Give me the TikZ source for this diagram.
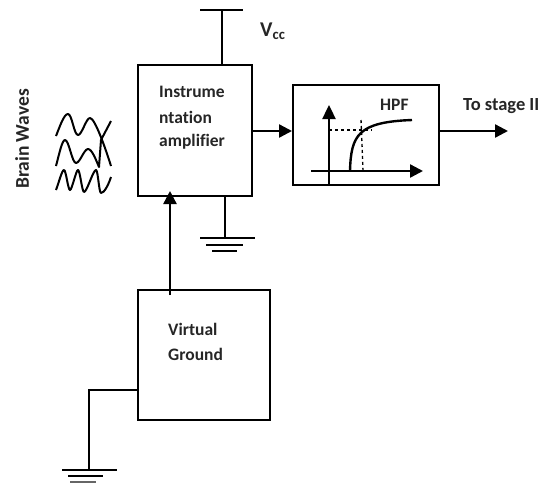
\documentclass[tikz,border=0pt]{standalone}
\usepackage{fontspec}
\setmainfont[Ligatures=CommonOff]{Carlito}
\usetikzlibrary{arrows.meta}
\tikzset{
  blockbox/.style={draw=black, line width=2pt, inner sep=0pt, anchor=north west},
  wire/.style={black, line width=2.4pt},
  feed/.style={wire, -{Stealth[length=13pt, width=13pt, inset=0pt]}},
  wave/.style={black, line width=2pt, line join=round},
  lbl/.style={font=\fontsize{17.5}{20}\bfseries\selectfont, text=black!85, inner sep=0pt}
}
\begin{document}
\begin{tikzpicture}[x=1pt,y=-1pt]
\useasboundingbox (0,0) rectangle (539,483);
\node[blockbox, minimum width=114pt, minimum height=131pt] (amp) at (137,64) {};
\node[blockbox, minimum width=146pt, minimum height=100pt] (hpf) at (292,84) {};
\node[blockbox, minimum width=132pt, minimum height=130pt] (vgnd) at (137,289) {};
\coordinate (vcc) at (222,10);
\coordinate (gndA) at (225,238);
\coordinate (gndB) at (89,470);
\coordinate (out) at (508,131);
\coordinate (vgndtop) at (170,295);
\coordinate (ampbot) at (170,191);
% supply and grounds
\draw[wire] (vcc) -- (vcc |- amp.north);
\draw[line width=1.4pt] (200,10) -- (243,10);
\draw[wire] (gndA |- amp.south) -- (gndA);
\draw[line width=2pt] (200,238) -- (255,238);
\draw[line width=1.8pt] (206,245) -- (243,245);
\draw[line width=1.4pt] (212,251) -- (237,251);
\draw[wire] (vgnd.west |- 0,390) -| (gndB);
\draw[line width=1.6pt] (62,470) -- (117,470);
\draw[line width=2pt] (68,476) -- (103,476);
\draw[black!60, line width=1.4pt] (70,482) -- (96,482);
% signal path
\draw[feed] (vgndtop) -- (ampbot);
\draw[feed] (amp.east |- 0,131) -- (hpf.west |- 0,131);
\draw[feed] (hpf.east |- 0,131) -- (out);
% filter curve
\draw[wire, -{Stealth[length=14pt, width=13pt, inset=0pt]}] (329,184) -- (329,105);
\draw[wire, -{Stealth[length=13pt, width=13pt, inset=0pt]}] (311,171) -- (423,171);
\draw[wire] (350,171) .. controls (351,135) and (358,122) .. (412,120);
\draw[black, line width=1.4pt, dashed] (329,130) -- (372,130);
\draw[black, line width=1.4pt, dashed] (361,120) -- (363,170);
% brain waves
\draw[wave] (56,136) .. controls (60,126) and (64,114) .. (68,114) .. controls (72,114) and (74,135) .. (78,135) .. controls (82,135) and (86,118) .. (90,118) .. controls (95,118) and (106,150) .. (111,166);
\draw[wave] (56,166) .. controls (59,155) and (62,140) .. (65,140) .. controls (69,140) and (72,163) .. (76,163) .. controls (80,163) and (84,149) .. (88,149) .. controls (92,149) and (96,160) .. (99,167) -- (101,140) -- (111,121);
\draw[wave] (56,190) .. controls (59,182) and (62,170) .. (64,170) .. controls (66,170) and (68,190) .. (70,190) .. controls (72,190) and (76,170) .. (78,170) .. controls (80,170) and (82,192) .. (84,192) .. controls (87,192) and (93,170) .. (96,170) .. controls (98,170) and (99,193) .. (101,193) .. controls (104,193) and (108,186) .. (111,177);
% labels
\node[lbl, anchor=west] (instrA) at (159,92) {Instrume};
\node[lbl, anchor=west] (instrB) at (159,117) {ntation};
\node[lbl, anchor=west] (instrC) at (159,142) {amplifier};
\node[lbl, anchor=west] (virt) at (168,329) {Virtual};
\node[lbl, anchor=west] (grnd) at (168,354) {Ground};
\node[lbl, anchor=west] (hpflbl) at (380,105) {HPF};
\node[lbl, anchor=west, font=\fontsize{18.5}{20}\bfseries\selectfont] (stage) at (463,106) {To stage II};
\node[lbl, rotate=90, font=\fontsize{19.5}{20}\bfseries\selectfont] (brain) at (22,139) {Brain Waves};
\node[lbl, anchor=west, font=\fontsize{21}{24}\bfseries\selectfont] (vcclbl) at (260,31) {V\textsubscript{cc}};
\end{tikzpicture}
\end{document}
